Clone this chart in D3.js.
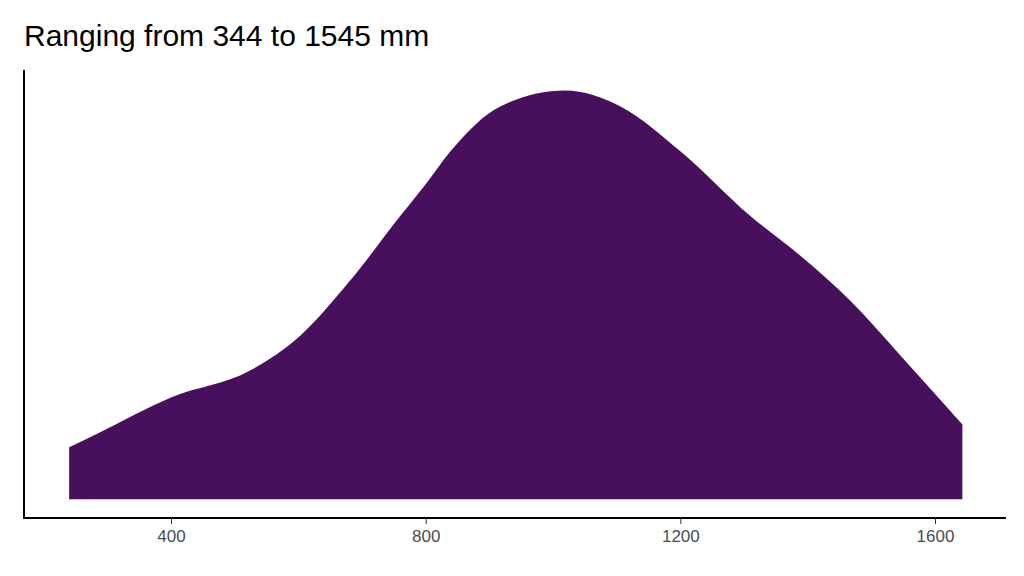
<!DOCTYPE html>
<html>
<head>
<meta charset="utf-8">
<script src="https://cdn.jsdelivr.net/npm/d3@7"></script>
<style>
  body { margin: 0; background: #fff; }
  text { font-family: "Liberation Sans", Arial, sans-serif; }
</style>
</head>
<body>
<div id="chart"></div>
<script>
// Density estimate of annual rainfall (mm)
var rain = [240, 288, 400, 524, 603, 681, 760, 800, 839, 917, 1019, 1106, 1200, 1310, 1389, 1467, 1546, 1643];
var density = [52, 67, 102, 129, 164, 219, 284, 316, 349, 394, 410, 394, 349, 284, 244, 199, 144, 75];
var xTicks = [400, 800, 1200, 1600];
var title = "Ranging from 344 to 1545 mm";

var width = 1024, height = 576;
var svg = d3.select("#chart").append("svg")
    .attr("width", width)
    .attr("height", height);

var x = d3.scaleLinear()
  .domain([400, 1600])
  .range([171, 935]);

var maxD = d3.max(density);
var y = d3.scaleLinear()
  .domain([-0.046 * maxD, 1.05 * maxD])
  .range([518, 70]);

var area = d3.area()
  .x(function(d, i) { return x(rain[i]); })
  .y0(y(0))
  .y1(function(d) { return y(d); })
  .curve(d3.curveMonotoneX);

svg.append("path")
  .datum(density)
  .attr("fill", "#470f5c")
  .attr("d", area);

// Axes
var xaxis = svg.append("g")
  .attr("transform", "translate(0,518)")
  .call(d3.axisBottom(x).tickValues(xTicks).tickSize(6).tickPadding(6).tickFormat(d3.format("d")));
xaxis.select(".domain").attr("d", "M24,0H1006").attr("stroke", "#000").attr("stroke-width", 2);
xaxis.selectAll(".tick line").attr("stroke", "#333");
xaxis.selectAll(".tick text").attr("fill", "#4d4d4d").style("font-size", "17px");

svg.append("line")
  .attr("x1", 24).attr("x2", 24)
  .attr("y1", 70).attr("y2", 519)
  .attr("stroke", "#000").attr("stroke-width", 2);

svg.append("text")
  .attr("x", 24).attr("y", 46)
  .style("font-size", "30px")
  .attr("fill", "#000")
  .text(title);
</script>
</body>
</html>
